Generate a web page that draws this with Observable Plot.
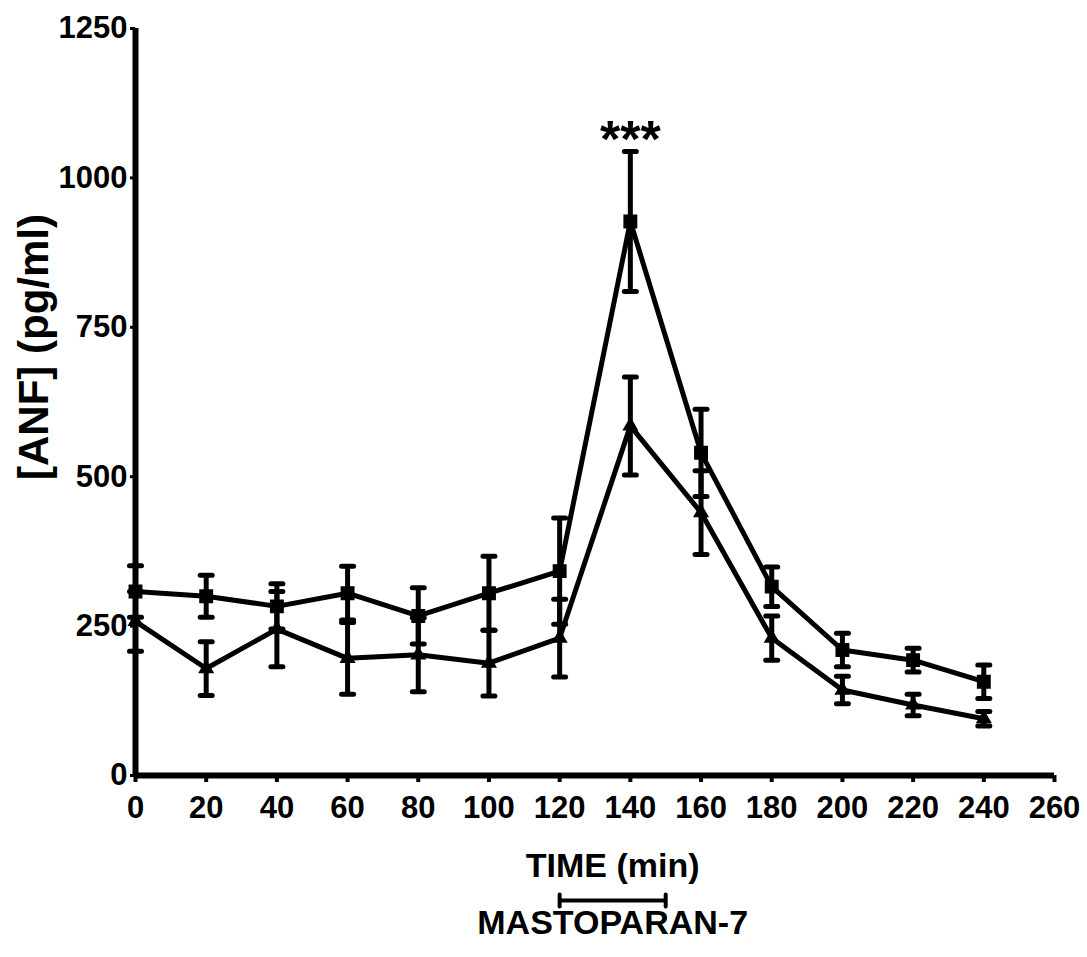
<!DOCTYPE html>
<html>
<head>
<meta charset="utf-8">
<script src="https://cdn.jsdelivr.net/npm/d3@7"></script>
<script src="https://cdn.jsdelivr.net/npm/@observablehq/plot@0.6"></script>
<style>
  html, body { margin: 0; padding: 0; background: #fff; }
</style>
</head>
<body>
<div id="chart"></div>
<script>
// ---- data ----
const time = [0, 20, 40, 60, 80, 100, 120, 140, 160, 180, 200, 220, 240];
const mastoMean = [308, 300, 283, 305, 267, 305, 342, 927, 540, 316, 210, 193, 157];
const mastoSem  = [43, 35, 38, 45, 47, 62, 89, 117, 73, 33, 28, 20, 28];
const ctrlMean  = [258, 179, 245, 196, 202, 188, 230, 585, 440, 230, 143, 118, 95];
const ctrlSem   = [50, 45, 63, 60, 62, 55, 65, 82, 70, 37, 23, 18, 12];
const xTicks = [0, 20, 40, 60, 80, 100, 120, 140, 160, 180, 200, 220, 240, 260];
const yTicks = [0, 250, 500, 750, 1000, 1250];
const infusion = [120, 150];
const sigTime = [140];
const sigLabel = "***";
const xLabel = "TIME (min)";
const yLabel = "[ANF] (pg/ml)";
const infusionLabel = "MASTOPARAN-7";

// ---- build table ----
const rows = [];
time.forEach((t, i) => {
  rows.push({series: "masto", t, m: mastoMean[i], lo: mastoMean[i] - mastoSem[i], hi: mastoMean[i] + mastoSem[i]});
  rows.push({series: "ctrl", t, m: ctrlMean[i], lo: ctrlMean[i] - ctrlSem[i], hi: ctrlMean[i] + ctrlSem[i]});
});
const masto = rows.filter(d => d.series === "masto");
const ctrl = rows.filter(d => d.series === "ctrl");
const caps = rows.flatMap(d => [{t: d.t, v: d.lo}, {t: d.t, v: d.hi}]);
const sig = sigTime.map(t => {
  const i = time.indexOf(t);
  return {t, v: mastoMean[i] + mastoSem[i], label: sigLabel};
});

const hSym = {draw(ctx, size) { const r = Math.sqrt(size / Math.PI); ctx.moveTo(-r, 0); ctx.lineTo(r, 0); }};
const vSym = {draw(ctx, size) { const r = Math.sqrt(size / Math.PI); ctx.moveTo(0, -r); ctx.lineTo(0, r); }};

const font = "'Liberation Sans', Arial, Helvetica, sans-serif";

const chart = Plot.plot({
  width: 1087,
  height: 957,
  marginLeft: 135,
  marginRight: 33,
  marginTop: 28,
  marginBottom: 182,
  style: {fontFamily: font, background: "#fff", color: "#000"},
  x: {domain: [0, 260]},
  y: {domain: [0, 1250]},
  marks: [
    Plot.axisX({ticks: xTicks, tickFormat: d => String(d), tickSize: 7, tickPadding: 13, strokeWidth: 4, fontSize: 31, fontWeight: "bold", label: null}),
    Plot.axisY({ticks: yTicks, tickFormat: d => String(d), tickSize: 5, tickPadding: 3, strokeWidth: 3, fontSize: 31, fontWeight: "bold", label: null}),
    Plot.ruleY([0], {stroke: "#000", strokeWidth: 6}),
    Plot.ruleX([0], {stroke: "#000", strokeWidth: 6}),
    // error bars
    Plot.ruleX(rows, {x: "t", y1: "lo", y2: "hi", stroke: "#000", strokeWidth: 5}),
    Plot.dot(caps, {x: "t", y: "v", symbol: hSym, r: 6, stroke: "#000", strokeWidth: 5, strokeLinecap: "round", fill: "none"}),
    // lines
    Plot.line(rows, {x: "t", y: "m", z: "series", stroke: "#000", strokeWidth: 5}),
    Plot.dot(masto, {x: "t", y: "m", symbol: "square", r: 7, fill: "#000", stroke: "#000"}),
    Plot.dot(ctrl, {x: "t", y: "m", symbol: "triangle", r: 5, fill: "#000", stroke: "#000"}),
    // significance
    Plot.text(sig, {x: "t", y: "v", text: "label", fontSize: 52, fontWeight: "bold", lineAnchor: "bottom", dy: 5, fill: "#000"}),
    // axis titles
    Plot.text([xLabel], {x: d3.mean(infusion), frameAnchor: "bottom", textAnchor: "middle", text: d => d, dy: 91, lineAnchor: "middle", fontSize: 34, fontWeight: "bold", fill: "#000"}),
    Plot.ruleY([0], {x1: infusion[0], x2: infusion[1], dy: 125, stroke: "#000", strokeWidth: 4}),
    Plot.dot(infusion.map(t => ({t})), {x: "t", y: () => 0, dy: 125, symbol: vSym, r: 6, stroke: "#000", strokeWidth: 4, strokeLinecap: "round", fill: "none"}),
    Plot.text([infusionLabel], {x: d3.mean(infusion), frameAnchor: "bottom", textAnchor: "middle", text: d => d, dy: 148, lineAnchor: "middle", fontSize: 34, fontWeight: "bold", fill: "#000"}),
    Plot.text([yLabel], {frameAnchor: "left", textAnchor: "middle", text: d => d, rotate: -90, dx: -101, dy: -55, lineAnchor: "middle", fontSize: 42, fontWeight: "bold", fill: "#000"})
  ]
});
document.getElementById("chart").appendChild(chart);
</script>
</body>
</html>
